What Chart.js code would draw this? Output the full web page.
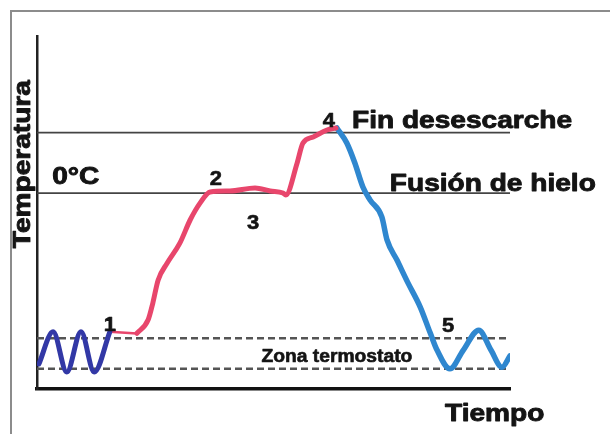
<!DOCTYPE html>
<html>
<head>
<meta charset="utf-8">
<script src="https://cdn.jsdelivr.net/npm/chart.js@4"></script>
<style>
  html, body { margin: 0; padding: 0; background: #fff; }
  canvas { display: block; }
</style>
</head>
<body>
<canvas id="c" width="610" height="434"></canvas>
<script>
// ---- Data (time in arbitrary minutes, temperature in °C) ----
const coolTimes  = [0.4, 3.4, 6.3, 9.3, 12.1, 15.4];
const coolTemps  = [-21.2, -17.2, -22.2, -17.2, -22.2, -17.2];

const startTimes = [15.4, 21.1];
const startTemps = [-17.2, -17.4];

const heatTimes  = [21.1, 23.5, 24.5, 25.6, 27.5, 30.2, 32.4, 34.5, 36.6, 40.8, 46.1, 49.3, 52.0, 52.6, 55.0, 56.2, 58.4, 61.3, 63.2];
const heatTemps  = [-17.4, -15.7, -13.6, -10.8, -8.7, -6.2, -3.3, -1.2, 0.15, 0.27, 0.65, 0.27, 0.02, -0.22, 3.75, 6.2, 6.97, 7.84, 8.09];

const recoverTimes = [63.4, 65.5, 67.2, 68.9, 70.4, 72.9, 74.0, 76.1, 78.4, 81.0, 83.1, 84.6, 87.3, 90.1, 93.4, 96.0, 98.3, 100];
const recoverTemps = [8.09, 6.23, 3.75, 0.77, -0.84, -2.95, -5.8, -8.3, -11.1, -14.1, -17.3, -19.5, -21.8, -19.5, -17.0, -19.5, -21.6, -20.2];

const refTimes    = [0, 100];
const finTemp     = 7.5;   // Fin desescarche
const fusionTemp  = 0;     // Fusión de hielo (0°C)
const thermoHigh  = -18;   // Zona termostato (upper)
const thermoLow   = -21.8; // Zona termostato (lower)

const pts = (xs, ys) => xs.map((x, i) => ({ x, y: ys[i] }));
const flat = (xs, v) => xs.map(x => ({ x, y: v }));

const FONT = '"Liberation Sans", Arial, Helvetica, sans-serif';

// Text annotations (data coordinates)
const notes = [
  { text: '0°C', t: 3.2, T: 1.14, size: 24, align: 'left' },
  { text: 'Fin desescarche', t: 66.6, T: 8.09, size: 24, align: 'left' },
  { text: 'Fusión de hielo', t: 74.6, T: 0.27, size: 24, align: 'left' },
  { text: 'Zona termostato', t: 63.4, T: -20.9, size: 18, align: 'center', sx: 1.07 },
  { text: '1', t: 15.4, T: -17.1, size: 20, align: 'center', sx: 1.1 },
  { text: '2', t: 37.8, T: 1.0, size: 20, align: 'center', sx: 1.1 },
  { text: '3', t: 45.7, T: -4.4, size: 20, align: 'center', sx: 1.1 },
  { text: '4', t: 61.7, T: 8.2, size: 20, align: 'center', sx: 1.1 },
  { text: '5', t: 86.9, T: -17.2, size: 20, align: 'center', sx: 1.1 }
];

function drawStretched(ctx, text, x, y, size, align, sx) {
  ctx.save();
  ctx.font = 'bold ' + size + 'px ' + FONT;
  ctx.fillStyle = '#141414';
  ctx.strokeStyle = '#141414';
  ctx.lineWidth = size > 20 ? 0.9 : 0.6;
  ctx.lineJoin = 'round';
  ctx.textBaseline = 'alphabetic';
  ctx.textAlign = 'left';
  const w = ctx.measureText(text).width * sx;
  let left = x;
  if (align === 'center') left = x - w / 2;
  ctx.translate(left, y);
  ctx.scale(sx, 1);
  ctx.fillText(text, 0, 0);
  ctx.strokeText(text, 0, 0);
  ctx.restore();
}

const framePlugin = {
  id: 'frame',
  beforeDraw(chart) {
    const ctx = chart.ctx;
    ctx.save();
    ctx.fillStyle = '#ffffff';
    ctx.fillRect(0, 0, chart.width, chart.height);
    ctx.strokeStyle = '#8c8c8c';
    ctx.lineWidth = 2;
    ctx.beginPath();
    ctx.moveTo(11, chart.height);
    ctx.lineTo(11, 11);
    ctx.lineTo(chart.width, 11);
    ctx.stroke();
    ctx.restore();
  }
};

const textPlugin = {
  id: 'texts',
  afterDraw(chart) {
    const ctx = chart.ctx;
    const xs = chart.scales.x, ys = chart.scales.y;
    notes.forEach(n => {
      drawStretched(ctx, n.text, xs.getPixelForValue(n.t), ys.getPixelForValue(n.T), n.size, n.align, n.sx || 1.17);
    });
    const area = chart.chartArea;
    // Axis titles
    drawStretched(ctx, 'Tiempo', area.left + 408, area.bottom + 32, 24, 'left', 1.17);
    ctx.save();
    ctx.translate(area.left - 7, ys.getPixelForValue(3.6));
    ctx.rotate(-Math.PI / 2);
    drawStretched(ctx, 'Temperatura', 0, 0, 24, 'center', 1.17);
    ctx.restore();
  }
};

const lineDs = (data, color, width, extra) => Object.assign({
  data, borderColor: color, borderWidth: width, pointRadius: 0,
  fill: false, cubicInterpolationMode: 'monotone', borderCapStyle: 'round',
  borderJoinStyle: 'round', order: 0
}, extra || {});

const refStyle = { order: 1, cubicInterpolationMode: 'default', tension: 0, borderCapStyle: 'butt' };

new Chart(document.getElementById('c'), {
  type: 'line',
  data: {
    datasets: [
      lineDs(pts(coolTimes, coolTemps), '#3238a6', 5),
      lineDs(pts(startTimes, startTemps), '#e8466c', 2.5),
      lineDs(pts(heatTimes, heatTemps), '#e8466c', 5),
      lineDs(pts(recoverTimes, recoverTemps), '#2f87cf', 5.5),
      lineDs(flat(refTimes, finTemp), '#444444', 1.8, refStyle),
      lineDs(flat(refTimes, fusionTemp), '#444444', 1.8, refStyle),
      lineDs(flat(refTimes, thermoHigh), '#555555', 2.5, Object.assign({ borderDash: [7, 4] }, refStyle)),
      lineDs(flat(refTimes, thermoLow), '#555555', 2.5, Object.assign({ borderDash: [7, 4] }, refStyle))
    ]
  },
  options: {
    responsive: false,
    animation: false,
    layout: { padding: { left: 37, top: 36, right: 100, bottom: 45 } },
    plugins: { legend: { display: false }, tooltip: { enabled: false } },
    scales: {
      x: {
        type: 'linear', min: 0, max: 100,
        grid: { display: false, drawTicks: false, tickLength: 0 },
        ticks: { display: false },
        border: { display: true, color: '#111111', width: 3.5 }
      },
      y: {
        type: 'linear', min: -24.3, max: 19.5,
        grid: { display: false, drawTicks: false, tickLength: 0 },
        ticks: { display: false },
        border: { display: true, color: '#222222', width: 2.5 }
      }
    }
  },
  plugins: [framePlugin, textPlugin]
});
</script>
</body>
</html>
